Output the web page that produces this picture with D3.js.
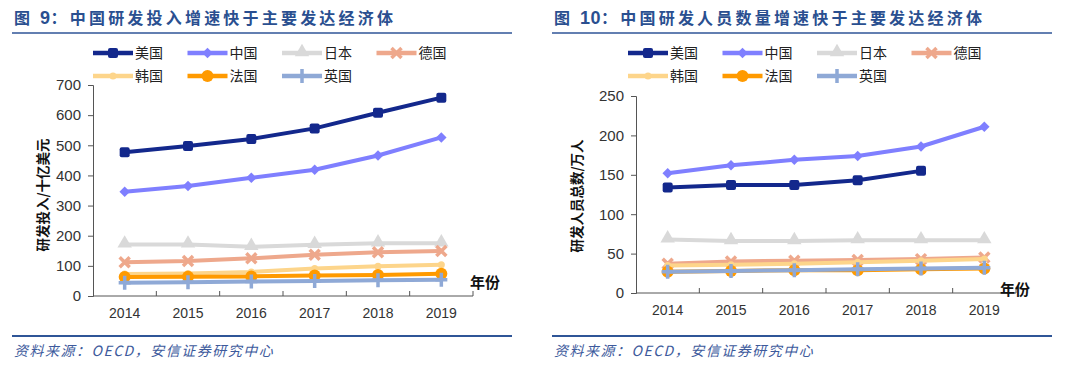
<!DOCTYPE html>
<html>
    <head>
        <meta charset="utf-8">
        <script src="https://d3js.org/d3.v7.min.js"></script>
        <style>
            body { margin: 0; background: #fff; }
            svg { display: block; }
        </style>
    </head>
    <body>
        <div class="chart"></div>
        <script>
            let years = ["2014", "2015", "2016", "2017", "2018", "2019"];
            let countries = ["美国", "中国", "日本", "德国", "韩国", "法国", "英国"];

            // 研发投入 / 十亿美元
            let spendUS = [477, 498, 521, 556, 608, 658];
            let spendCN = [346, 365, 392, 419, 466, 526];
            let spendJP = [171, 171, 163, 170, 175, 175];
            let spendDE = [112, 116, 125, 137, 145, 149];
            let spendKR = [73, 75, 80, 91, 99, 104];
            let spendFR = [63, 64, 65, 68, 70, 74];
            let spendUK = [44, 46, 48, 50, 52, 54];

            // 研发人员总数 / 万人
            let staffUS = [134, 137, 137, 143, 155, null];
            let staffCN = [152, 162, 169, 174, 186, 211];
            let staffJP = [68, 66, 66, 67, 67, 67];
            let staffDE = [37, 40, 41, 42, 43, 45];
            let staffKR = [35, 36, 37, 39, 41, 43];
            let staffFR = [27, 28, 29, 29, 30, 31];
            let staffUK = [27, 28, 29, 30, 31, 32];

            let spendTicks = [0, 100, 200, 300, 400, 500, 600, 700];
            let staffTicks = [0, 50, 100, 150, 200, 250];

            let colors = ["#13288c", "#7f7fff", "#d9d9d9", "#eea88c", "#fdd58b", "#ff9a00", "#8fa9d6"];
            let markers = ["square", "diamond", "triangle", "x", "dot", "circle", "plus"];

            let svg = d3.select(".chart").append("svg")
                .attr("width", 1080)
                .attr("height", 365);

            let cjk = "'Noto Sans CJK SC', 'Noto Sans', sans-serif";
            let latin = "'Liberation Sans', Arial, sans-serif";

            function drawMarker(g, type, x, y, color) {
                if (type == "square") {
                    g.append("rect").attr("x", x - 5).attr("y", y - 5).attr("width", 10).attr("height", 10)
                        .attr("rx", 2).style("fill", color);
                } else if (type == "diamond") {
                    g.append("path").attr("d", d3.symbol().type(d3.symbolDiamond2).size(70)())
                        .attr("transform", "translate(" + x + "," + y + ")").style("fill", color);
                } else if (type == "triangle") {
                    g.append("path").attr("d", d3.symbol().type(d3.symbolTriangle).size(90)())
                        .attr("transform", "translate(" + x + "," + (y - 1) + ")").style("fill", color);
                } else if (type == "x") {
                    g.append("path").attr("d", "M-5,-5L5,5M-5,5L5,-5")
                        .attr("transform", "translate(" + x + "," + y + ")")
                        .style("stroke", color).style("stroke-width", 3.5).style("fill", "none");
                } else if (type == "plus") {
                    g.append("path").attr("d", "M-6,0L6,0M0,-7L0,7")
                        .attr("transform", "translate(" + x + "," + y + ")")
                        .style("stroke", color).style("stroke-width", 3.5).style("fill", "none");
                } else if (type == "circle") {
                    g.append("circle").attr("cx", x).attr("cy", y).attr("r", 6).style("fill", color);
                } else if (type == "dot") {
                    g.append("circle").attr("cx", x).attr("cy", y).attr("r", 3.5).style("fill", color);
                }
            }

            function drawChart(opt) {
                let g = svg.append("g");

                // title + rules
                let title = g.append("text")
                    .attr("x", opt.left0 + 2)
                    .attr("y", 24)
                    .style("font-family", cjk)
                    .style("font-weight", "bold")
                    .style("font-size", "16px")
                    .style("letter-spacing", "3.2px")
                    .style("fill", "#2a4f90");
                title.append("tspan").text("图 ");
                title.append("tspan").style("font-family", latin).style("font-size", "18px")
                    .style("letter-spacing", "0.5px").text(opt.num);
                title.append("tspan").text("：" + opt.title);

                g.append("line").attr("x1", opt.left0).attr("x2", opt.left0 + 500)
                    .attr("y1", 33).attr("y2", 33)
                    .style("stroke", "#2f5597").style("stroke-width", 1.5);
                g.append("line").attr("x1", opt.left0).attr("x2", opt.left0 + 500)
                    .attr("y1", 336).attr("y2", 336)
                    .style("stroke", "#2f5597").style("stroke-width", 2);

                g.append("text")
                    .attr("x", opt.left0 + 2)
                    .attr("y", 356)
                    .style("font-family", cjk)
                    .style("font-style", "italic")
                    .style("font-size", "14px")
                    .style("letter-spacing", "1.5px")
                    .style("fill", "#3d5a9c")
                    .text("资料来源：OECD，安信证券研究中心");

                // legend
                countries.forEach(function (c, i) {
                    let lx = opt.legendX + (i % 4) * 94.5;
                    let ly = i < 4 ? 53 : 76;
                    g.append("line").attr("x1", lx).attr("x2", lx + 40)
                        .attr("y1", ly).attr("y2", ly)
                        .style("stroke", colors[i]).style("stroke-width", 4.5);
                    drawMarker(g, markers[i], lx + 20, ly, colors[i]);
                    g.append("text").attr("x", lx + 42).attr("y", ly + 5)
                        .style("font-family", cjk).style("font-size", "14px").style("fill", "#222")
                        .text(c);
                });

                let x = d3.scaleBand().domain(years).range([opt.left, opt.right]);
                let y = d3.scaleLinear().domain([0, opt.max]).range([opt.bottom, opt.top]);

                // y axis
                let yAxis = g.append("g")
                    .attr("transform", "translate(" + opt.left + ",0)")
                    .call(d3.axisLeft(y).tickValues(opt.ticks).tickSize(5).tickPadding(7));
                yAxis.select(".domain").style("stroke", "#555");
                yAxis.selectAll(".tick line").style("stroke", "#555");
                yAxis.selectAll("text").style("font-family", latin).style("font-size", "15px").style("fill", "#333");

                // x axis (inside ticks between categories)
                let xAxis = g.append("g")
                    .attr("transform", "translate(0," + opt.bottom + ")");
                xAxis.append("line").attr("x1", opt.left).attr("x2", opt.right)
                    .style("stroke", "#555");
                xAxis.selectAll(".sep").data(years.slice(1).concat(["end"]))
                    .enter().append("line")
                    .attr("x1", function (d, i) { return opt.left + (i + 1) * x.step(); })
                    .attr("x2", function (d, i) { return opt.left + (i + 1) * x.step(); })
                    .attr("y1", 0).attr("y2", -5)
                    .style("stroke", "#555");
                xAxis.selectAll(".lbl").data(years).enter().append("text")
                    .attr("x", function (d) { return x(d) + x.bandwidth() / 2; })
                    .attr("y", 22)
                    .style("text-anchor", "middle")
                    .style("font-family", latin).style("font-size", "14px").style("fill", "#333")
                    .text(function (d) { return d; });

                g.append("text")
                    .attr("x", opt.yearX).attr("y", opt.yearY)
                    .style("font-family", cjk).style("font-weight", "bold").style("font-size", "15px")
                    .style("fill", "#111")
                    .text("年份");

                g.append("text")
                    .attr("transform", "translate(" + opt.titleX + "," + opt.titleY + ") rotate(-90)")
                    .style("text-anchor", "middle")
                    .style("font-family", cjk).style("font-weight", "bold").style("font-size", "13.5px")
                    .style("fill", "#111")
                    .text(opt.yTitle);

                // series
                let line = d3.line()
                    .defined(function (d) { return d != null; })
                    .x(function (d, i) { return x(years[i]) + x.bandwidth() / 2; })
                    .y(function (d) { return y(d); });

                opt.series.forEach(function (s, k) {
                    g.append("path").datum(s)
                        .attr("d", line)
                        .style("fill", "none")
                        .style("stroke", colors[k])
                        .style("stroke-width", 4);
                    s.forEach(function (v, i) {
                        if (v == null) return;
                        drawMarker(g, markers[k], x(years[i]) + x.bandwidth() / 2, y(v), colors[k]);
                    });
                });
            }

            drawChart({
                left0: 12, num: "9", title: "中国研发投入增速快于主要发达经济体",
                legendX: 93,
                left: 93, right: 473, top: 85, bottom: 296, max: 700, ticks: spendTicks,
                yearX: 470, yearY: 288,
                titleX: 48, titleY: 195, yTitle: "研发投入/十亿美元",
                series: [spendUS, spendCN, spendJP, spendDE, spendKR, spendFR, spendUK]
            });

            drawChart({
                left0: 552, num: "10", title: "中国研发人员数量增速快于主要发达经济体",
                legendX: 628,
                left: 636, right: 1016, top: 96, bottom: 293, max: 250, ticks: staffTicks,
                yearX: 1000, yearY: 295,
                titleX: 582, titleY: 196, yTitle: "研发人员总数/万人",
                series: [staffUS, staffCN, staffJP, staffDE, staffKR, staffFR, staffUK]
            });
        </script>
    </body>
</html>
